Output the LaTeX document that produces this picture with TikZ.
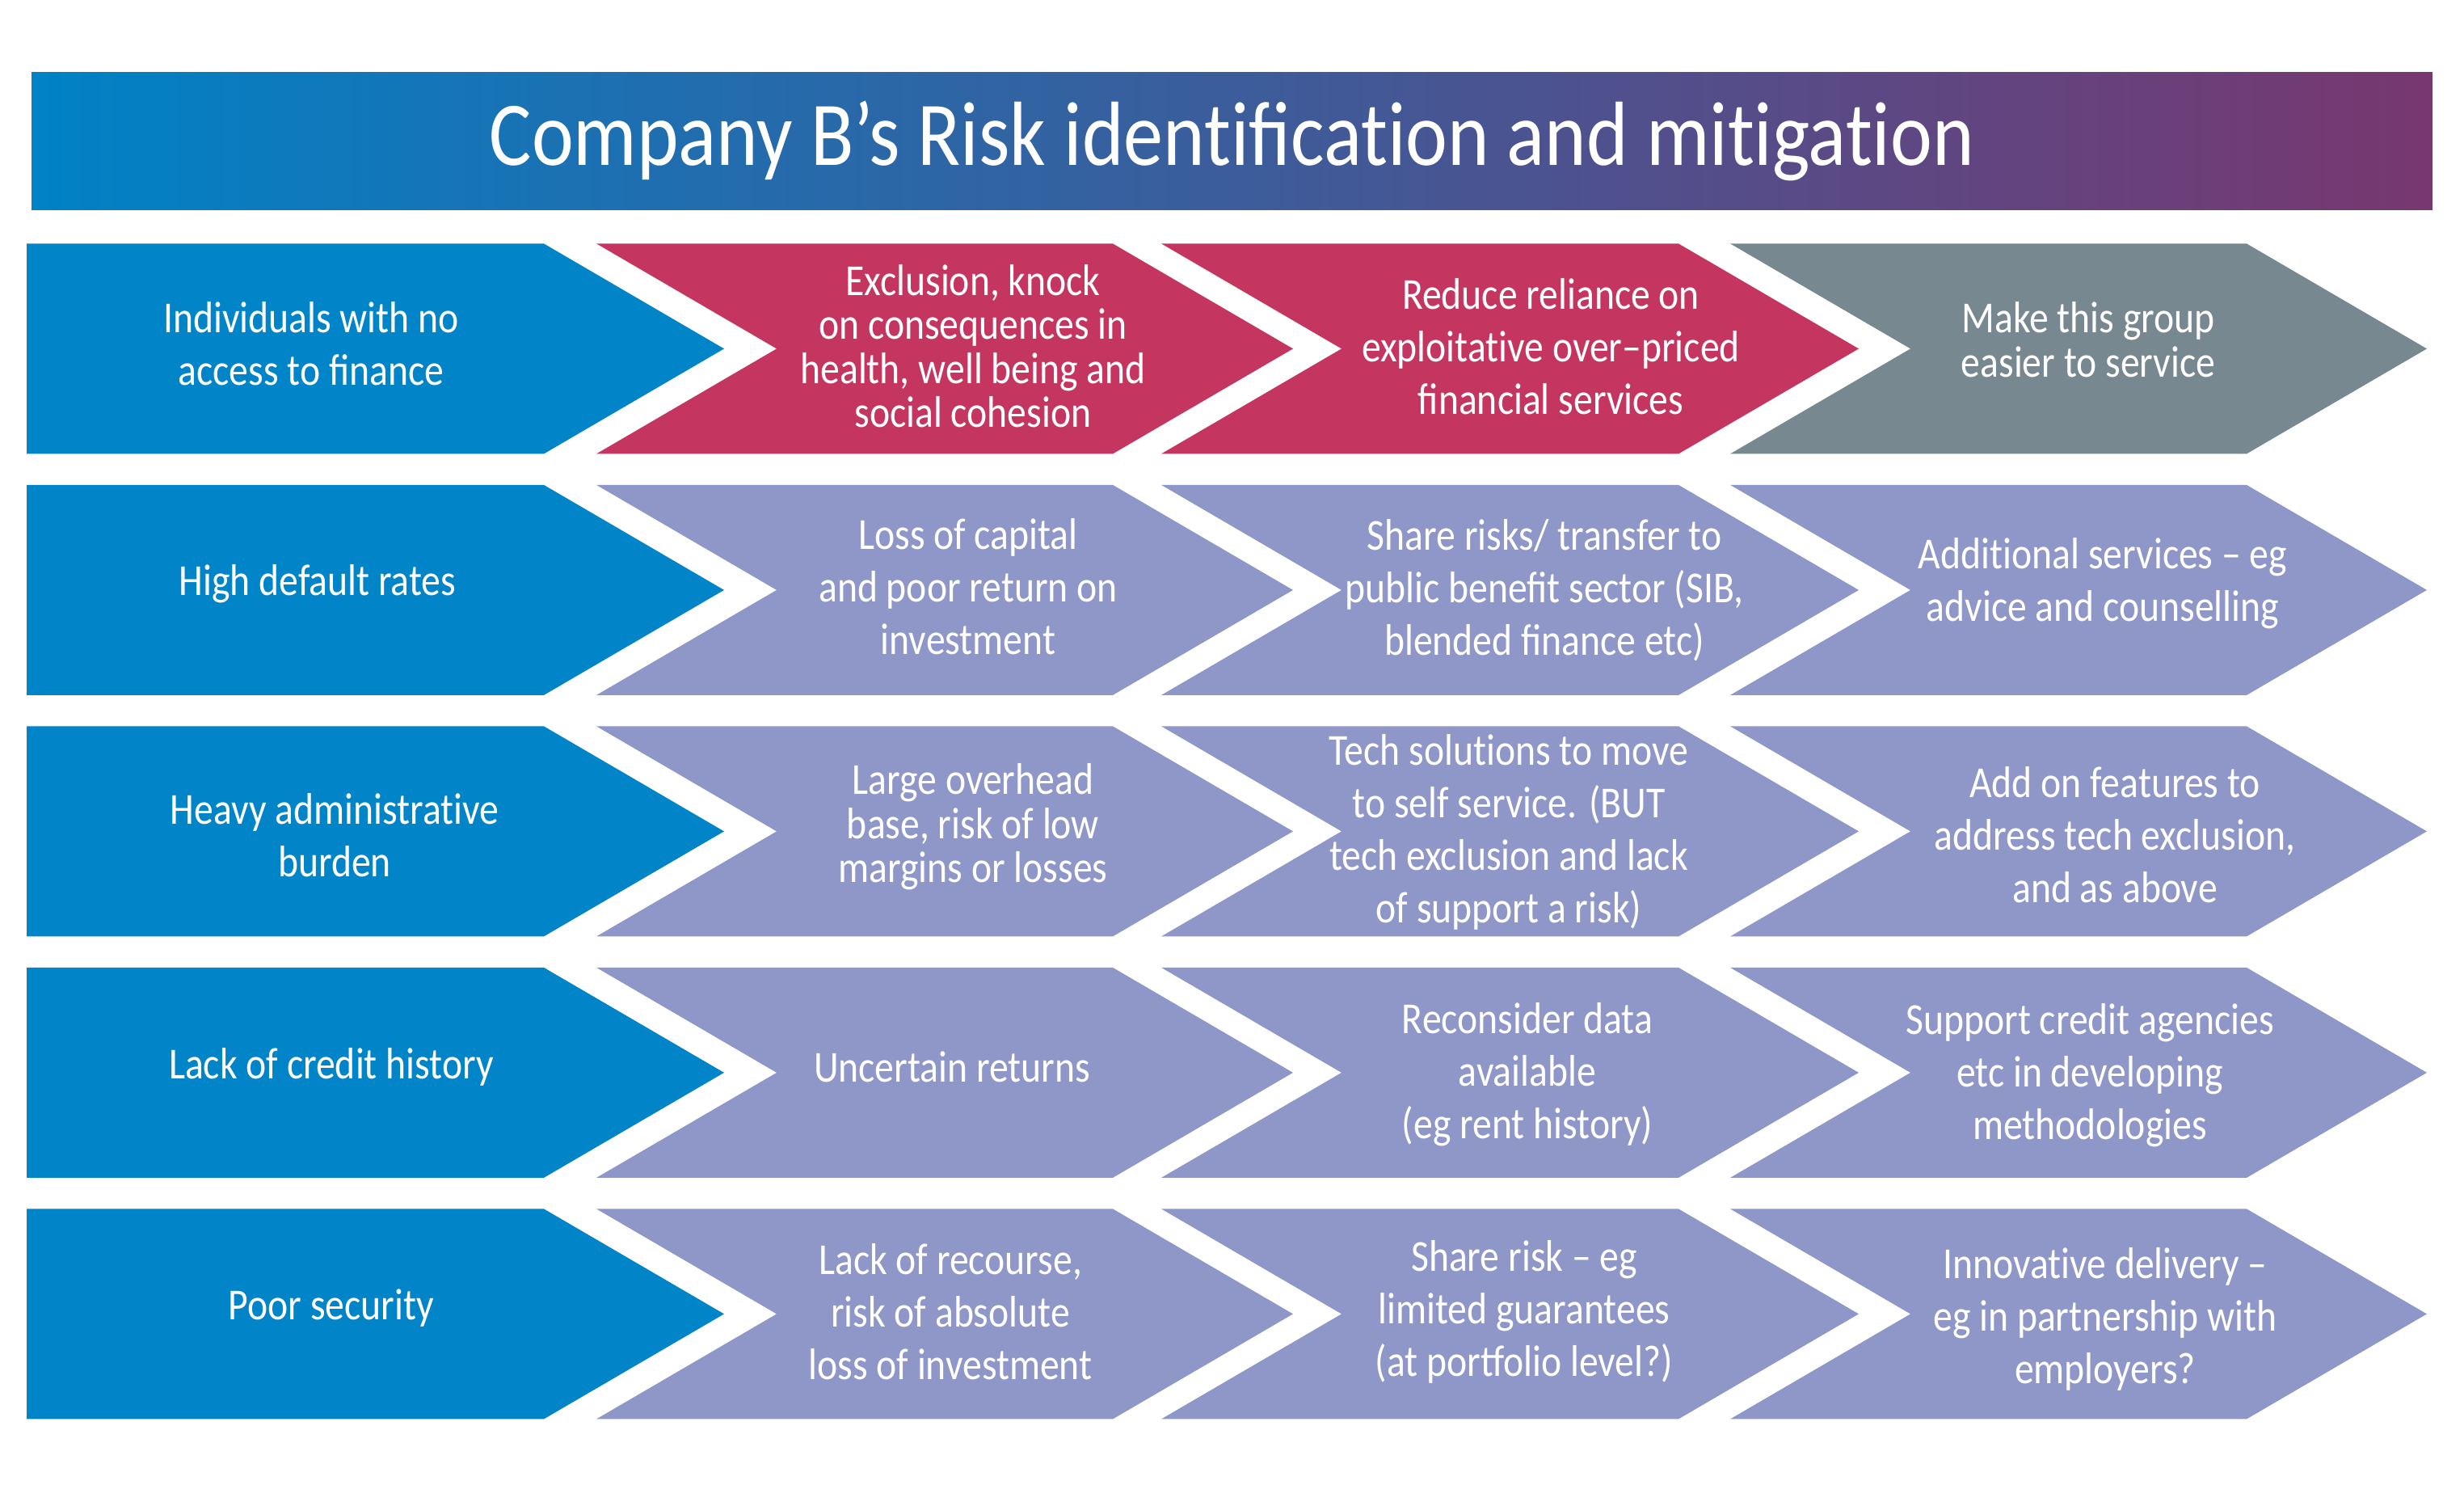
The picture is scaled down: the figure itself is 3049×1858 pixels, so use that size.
\documentclass[tikz,border=0pt]{standalone}
\usepackage{fontspec}
\setmainfont[FakeStretch=0.87]{Carlito}
\definecolor{cblue}{RGB}{2,133,200}
\definecolor{ccrim}{RGB}{196,54,96}
\definecolor{cgray}{RGB}{120,136,145}
\definecolor{clav}{RGB}{143,151,200}
\definecolor{tleft}{RGB}{0,130,198}
\definecolor{tright}{RGB}{120,55,112}
\newcommand\tiNL{t\kern0pt i}
\tikzset{
  txt/.style={text=white, align=center, inner sep=0pt, font=\fontsize{13.7}{16.25}\selectfont},
  tight/.style={text=white, align=center, inner sep=0pt, font=\fontsize{13.7}{13.6}\selectfont},
  ttl/.style={text=white, inner sep=0pt, font=\fontsize{28.2}{32}\selectfont}
}
\begin{document}
\begin{tikzpicture}[x=0.25pt,y=-0.25pt]
\useasboundingbox (0,0) rectangle (3049,1858);
% title bar
\shade[left color=tleft, right color=tright] (39,89.3) rectangle (3010,259.3);
\node[ttl] (title) at (1524.5,174) {Company B’s Risk iden\tiNL fica\tiNL on and mi\tiNL ga\tiNL on};
% arrows
\foreach \r in {0,...,4}{
  \pgfmathsetmacro\T{301.4+298.5*\r}
  \pgfmathsetmacro\M{\T+130}
  \pgfmathsetmacro\B{\T+260}
  \fill[cblue] (33,\T) -- (673,\T) -- (896,\M) -- (673,\B) -- (33,\B) -- cycle;
  \foreach \L/\R [count=\k] in {738/1377,1437/2077,2141/2780}{
    \ifnum\r=0 \ifnum\k=3 \def\cc{cgray}\else\def\cc{ccrim}\fi\else\def\cc{clav}\fi
    \pgfmathsetmacro\LL{\L+223}
    \pgfmathsetmacro\RR{\R+223}
    \fill[\cc] (\L,\T) -- (\R,\T) -- (\RR,\M) -- (\R,\B) -- (\L,\B) -- (\LL,\M) -- cycle;
  }
}
% row 1
\node[txt] (r1c1) at (385,425) {Individuals with no\\access to finance};
\node[tight] (r1c2) at (1204,428) {Exclusion, knock\\on consequences in\\health, well being and\\social cohesion};
\node[txt] (r1c3) at (1919,429) {Reduce reliance on\\exploita\tiNL ve over–priced\\financial services};
\node[tight] (r1c4) at (2584,420) {Make this group\\easier to service};
% row 2
\node[txt] (r2c1) at (393,722) {High default rates};
\node[txt] (r2c2) at (1198,726) {Loss of capital\\and poor return on\\investment};
\node[txt] (r2c3) at (1911,730) {Share risks/ transfer to\\public benefit sector (SIB,\\blended finance etc)};
\node[txt] (r2c4) at (2602,722) {Addi\tiNL onal services – eg\\advice and counselling};
% row 3
\node[txt] (r3c1) at (414,1033) {Heavy administra\tiNL ve\\burden};
\node[tight] (r3c2) at (1204,1023) {Large overhead\\base, risk of low\\margins or losses};
\node[txt] (r3c3) at (1867,1029) {Tech solu\tiNL ons to move\\to self service. (BUT\\tech exclusion and lack\\of support a risk)};
\node[txt] (r3c4) at (2617,1033) {Add on features to\\address tech exclusion,\\and as above};
% row 4
\node[txt] (r4c1) at (410,1320) {Lack of credit history};
\node[txt] (r4c2) at (1178,1320) {Uncertain returns};
\node[txt] (r4c3) at (1890,1329) {Reconsider data\\available\\(eg rent history)};
\node[txt] (r4c4) at (2586,1330) {Support credit agencies\\etc in developing\\methodologies};
% row 5
\node[txt] (r5c1) at (410,1618) {Poor security};
\node[txt] (r5c2) at (1176,1623) {Lack of recourse,\\risk of absolute\\loss of investment};
\node[txt] (r5c3) at (1886,1623) {Share risk – eg\\limited guarantees\\(at portfolio level?)};
\node[txt] (r5c4) at (2605,1632) {Innova\tiNL ve delivery –\\eg in partnership with\\employers?};
\end{tikzpicture}
\end{document}
